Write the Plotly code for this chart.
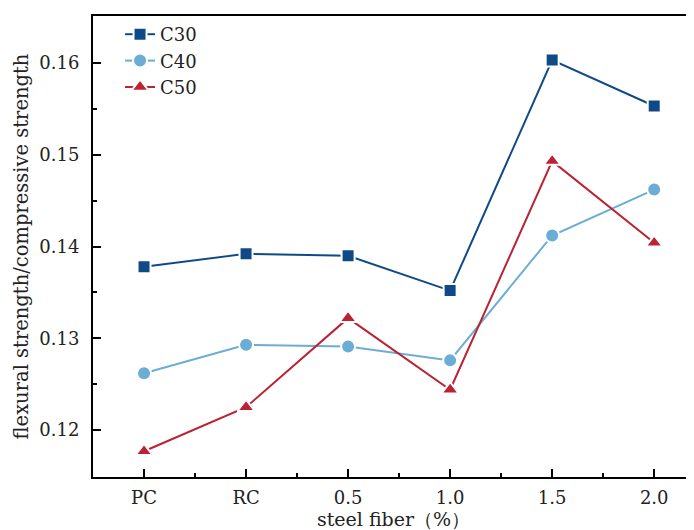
import plotly.graph_objects as go

categories = ["PC", "RC", "0.5", "1.0", "1.5", "2.0"]
c30 = [0.1378, 0.1392, 0.1390, 0.1352, 0.1603, 0.1553]
c40 = [0.1262, 0.1293, 0.1291, 0.1276, 0.1412, 0.1462]
c50 = [0.1177, 0.1225, 0.1322, 0.1244, 0.1493, 0.1404]
y_ticks = [0.12, 0.13, 0.14, 0.15, 0.16]

xpos = list(range(len(categories)))
FONT = "DejaVu Serif"

fig = go.Figure()
series = [
    ("C30", c30, "#0F4A86", "square", 13),
    ("C40", c40, "#6AADD5", "circle", 14),
    ("C50", c50, "#BB2232", "triangle-up", 15),
]
for name, vals, color, sym, size in series:
    fig.add_trace(go.Scatter(
        x=xpos, y=vals, name=name, mode="lines+markers",
        line=dict(color=color, width=2),
        marker=dict(symbol=sym, size=size, color=color,
                    line=dict(color="white", width=2)),
    ))

fig.update_layout(
    width=686, height=522,
    margin=dict(l=85, r=0, t=8, b=53),
    paper_bgcolor="white", plot_bgcolor="white",
    font=dict(family=FONT, color="#222222", size=18),
    showlegend=True,
    legend=dict(x=0.045, y=1.0, xanchor="left", yanchor="top",
                bgcolor="rgba(0,0,0,0)", borderwidth=0,
                font=dict(family=FONT, size=18, color="#222222"),
                tracegroupgap=0),
)
fig.update_xaxes(
    automargin=False,
    range=[-0.5, 5.39],
    tickmode="array", tickvals=xpos, ticktext=categories,
    ticks="inside", ticklen=8, tickwidth=1.5, tickcolor="black",
    minor=dict(ticks="inside", ticklen=4, tickwidth=1.5, tickcolor="black",
               tick0=0.5, dtick=1),
    showline=True, linecolor="black", linewidth=2, mirror=True,
    showgrid=False, zeroline=False,
    tickfont=dict(family=FONT, size=18),
    ticklabelstandoff=3,
    title=dict(text="steel fiber（%）", font=dict(family=FONT, size=19), standoff=5),
)
fig.update_yaxes(
    automargin=False,
    range=[0.1149, 0.1651],
    tickmode="array", tickvals=y_ticks, ticktext=[f"{v:.2f}" for v in y_ticks],
    ticks="inside", ticklen=8, tickwidth=1.5, tickcolor="black",
    minor=dict(ticks="inside", ticklen=4, tickwidth=1.5, tickcolor="black",
               tick0=0.115, dtick=0.01),
    showline=True, linecolor="black", linewidth=2, mirror=False,
    showgrid=False, zeroline=False,
    tickfont=dict(family=FONT, size=18),
    ticklabelstandoff=8,
    title=dict(text="flexural strength/compressive strength",
               font=dict(family=FONT, size=19.5), standoff=5),
)

fig.write_html("out.html")
